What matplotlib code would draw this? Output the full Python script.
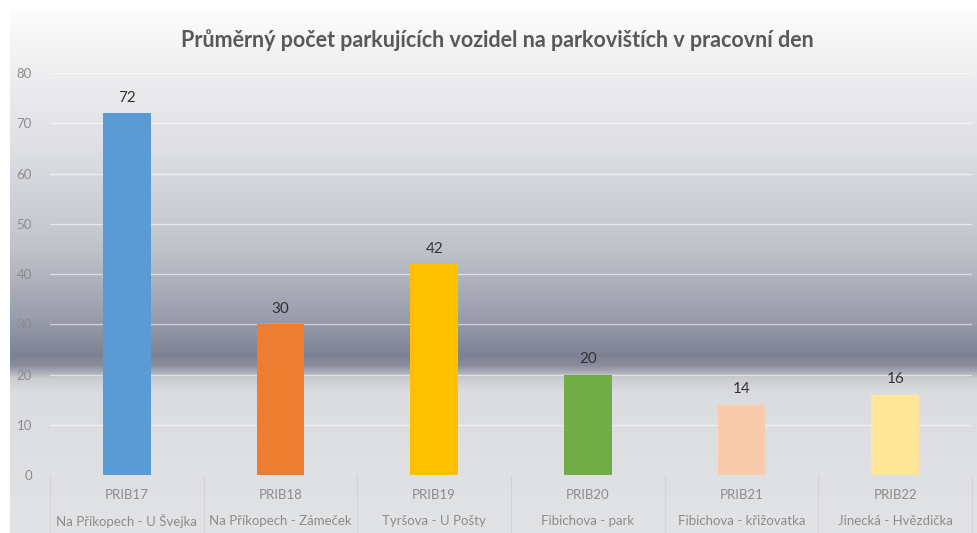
import numpy as np
import matplotlib.pyplot as plt
from matplotlib.lines import Line2D
import matplotlib.transforms as mtransforms

# ============================================================
# Data
# ============================================================

codes = ["PRIB17", "PRIB18", "PRIB19", "PRIB20", "PRIB21", "PRIB22"]
names = [
    "Na Příkopech - U Švejka",
    "Na Příkopech - Zámeček",
    "Tyršova - U Pošty",
    "Fibichova - park",
    "Fibichova - křižovatka",
    "Jinecká - Hvězdička",
]
values = [72, 30, 42, 20, 14, 16]
colors = ["#5B9BD5", "#ED7D31", "#FFC000", "#70AD47", "#F8CBAD", "#FFE699"]

title_text = "Průměrný počet parkujících vozidel na parkovištích v pracovní den"

plt.rcParams['font.family'] = ['Lato', 'DejaVu Sans']

W, H = 977, 533
fig = plt.figure(figsize=(W / 100, H / 100), dpi=100)
fig.patch.set_facecolor("white")

# ============================================================
# Background gradient (chart area)
# ============================================================

stops_y = [11, 73, 150, 250, 320, 355, 365, 378, 392, 533]
stops_c = np.array([
    (252, 252, 252),
    (238, 238, 240),
    (222, 223, 227),
    (192, 194, 202),
    (152, 155, 170),
    (125, 129, 147),
    (138, 141, 157),
    (204, 205, 210),
    (219, 220, 223),
    (226, 227, 229),
]) / 255.0

rows = np.arange(11, 533)
grad = np.stack([np.interp(rows, stops_y, stops_c[:, k]) for k in range(3)], axis=1)
grad = np.repeat(grad[:, None, :], 2, axis=1)

bg = fig.add_axes([10 / W, 0, 1 - 10 / W, 1 - 11 / H], zorder=0)
bg.imshow(grad, aspect="auto", extent=[0, 1, 0, 1], origin="upper")
bg.axis("off")

# ============================================================
# Plot
# ============================================================

ax = fig.add_axes([50 / W, (H - 475) / H, (972 - 50) / W, (475 - 73) / H], zorder=1)
ax.patch.set_alpha(0)

x = np.arange(len(values))
ax.bar(x, values, width=0.31, color=colors, zorder=3)

for xi, v in zip(x, values):
    ax.annotate(str(v), (xi, v), xytext=(0, 6), textcoords="offset points",
                ha="center", va="bottom", fontsize=11, color="#333333")

ax.set_xlim(-0.5, len(values) - 0.5)
ax.set_ylim(0, 80)
ax.set_yticks(range(0, 81, 10))
ax.yaxis.grid(True, color="white", alpha=0.55, lw=1, zorder=0)
ax.tick_params(axis="y", length=0, pad=13, labelsize=9.5, labelcolor="#8c8c8c")
ax.set_xticks([])
for s in ax.spines.values():
    s.set_visible(False)

# category labels
trans = mtransforms.blended_transform_factory(ax.transData, fig.transFigure)
for xi, c, n in zip(x, codes, names):
    fig.text(0, 0, c, transform=trans, fontsize=9.5, color="#8c8c8c",
             ha="center", va="center").set_position((xi, (H - 495) / H))
    fig.text(0, 0, n, transform=trans, fontsize=9.5, color="#8c8c8c",
             ha="center", va="center").set_position((xi, (H - 521) / H))

# category separators
for b in np.arange(-0.5, len(values), 1.0):
    fig.add_artist(Line2D([b, b], [0, (H - 475) / H], transform=trans,
                          color="#d4d4d6", lw=0.8, zorder=2))

fig.text(497 / W, 1 - 40 / H, title_text, ha="center", va="center",
         fontsize=15.5, fontweight="bold", color="#595959")

fig.savefig("out.png", dpi=100)
